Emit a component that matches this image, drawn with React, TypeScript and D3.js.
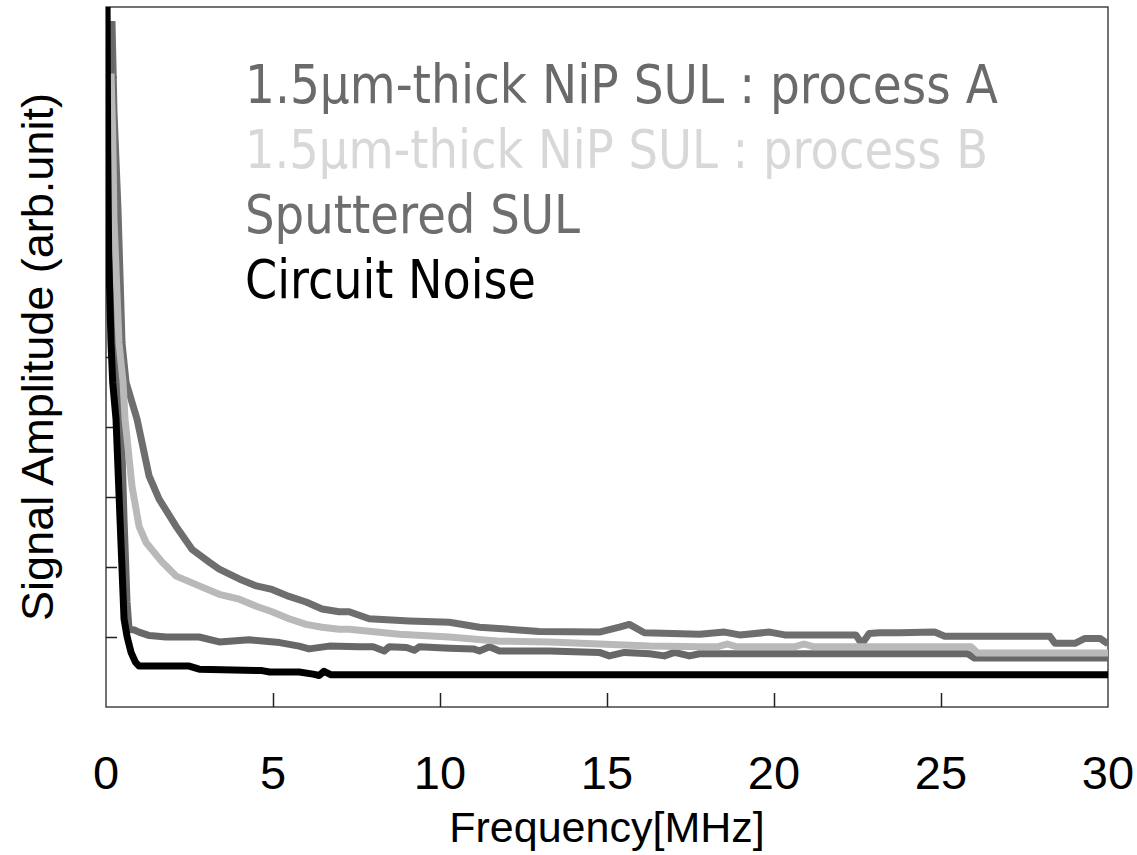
import { useEffect, useRef } from "react"
import * as d3 from "d3"

type Pt = [number, number]

// frequency [MHz], amplitude [arb. unit]
const processA: Pt[] = [
  [0.18, 9.8], [0.24, 8.5], [0.36, 7.1], [0.48, 5.2], [0.6, 4.64], [0.93, 4.11],
  [1.29, 3.3], [1.59, 2.97], [2.1, 2.58], [2.58, 2.25], [3.09, 2.07], [3.39, 1.97],
  [3.99, 1.83], [4.5, 1.73], [4.97, 1.68], [5.48, 1.58], [5.99, 1.5], [6.47, 1.4],
  [6.98, 1.36], [7.28, 1.36], [7.88, 1.26], [9.08, 1.23], [10.28, 1.21], [11.18, 1.14],
  [12.98, 1.08], [14.77, 1.07], [15.37, 1.14], [15.67, 1.18], [16.12, 1.06], [17.77, 1.04],
  [18.52, 1.07], [18.97, 1.03], [19.87, 1.07], [20.32, 1.03], [22.45, 1.03], [22.63, 0.9],
  [22.85, 1.05], [23.16, 1.06], [23.76, 1.06], [24.81, 1.07], [25.11, 1.01], [28.26, 1.01],
  [28.41, 0.91], [29.01, 0.91], [29.31, 0.98], [29.76, 0.98], [30, 0.9],
]

const processB: Pt[] = [
  [0.15, 9.05], [0.2, 8.2], [0.24, 6.96], [0.39, 5.2], [0.51, 4.64], [0.57, 4.11],
  [0.78, 3.15], [0.99, 2.58], [1.2, 2.35], [1.68, 2.07], [2.1, 1.87], [2.79, 1.73],
  [3.39, 1.61], [3.99, 1.54], [4.5, 1.44], [4.97, 1.36], [5.48, 1.26], [5.99, 1.18],
  [6.47, 1.14], [6.98, 1.11], [7.28, 1.11], [8.78, 1.04], [10.28, 1.0], [11.78, 0.94],
  [13.28, 0.93], [14.77, 0.9], [16.27, 0.87], [17.77, 0.86], [18.3, 0.86], [18.6, 0.9],
  [18.9, 0.86], [20.6, 0.86], [20.9, 0.9], [21.2, 0.86], [25.9, 0.86], [26.1, 0.77], [30, 0.77],
]

const sputtered: Pt[] = [
  [0.12, 9.8], [0.18, 7.0], [0.3, 5.2], [0.37, 4.64], [0.45, 4.11], [0.54, 2.68],
  [0.63, 1.5], [0.69, 1.11], [0.85, 1.1], [0.99, 1.07], [1.3, 1.02], [1.8, 1.0],
  [2.79, 1.0], [3.39, 0.93], [4.29, 0.96], [5.2, 0.92], [5.78, 0.87], [6.08, 0.83],
  [6.68, 0.87], [7.58, 0.86], [8.0, 0.86], [8.33, 0.8], [8.48, 0.86], [9.0, 0.85],
  [9.23, 0.81], [9.38, 0.86], [10.28, 0.84], [11.0, 0.83], [11.18, 0.8], [11.48, 0.86],
  [11.78, 0.8], [13.28, 0.8], [14.77, 0.78], [15.07, 0.73], [15.52, 0.78], [16.27, 0.76],
  [16.72, 0.73], [17.02, 0.78], [17.47, 0.73], [17.77, 0.76], [25.8, 0.76], [26.0, 0.7], [30, 0.7],
]

const circuitNoise: Pt[] = [
  [0.03, 10.3], [0.05, 8.0], [0.08, 6.5], [0.15, 5.2], [0.2, 4.64], [0.3, 4.11],
  [0.42, 2.68], [0.54, 1.26], [0.63, 1.01], [0.75, 0.78], [0.88, 0.64], [0.99, 0.585],
  [2.49, 0.585], [2.79, 0.54], [4.67, 0.52], [4.9, 0.5], [5.78, 0.5], [6.2, 0.47],
  [6.38, 0.45], [6.53, 0.51], [6.74, 0.46], [30, 0.46],
]

const legendLabels = [
  "1.5\u03bcm-thick NiP SUL : process A",
  "1.5\u03bcm-thick NiP SUL : process B",
  "Sputtered SUL",
  "Circuit Noise",
]
const legendColors = ["#6a6a6a", "#d8d8d8", "#6e6e6e", "#000000"]
const legendWidths = [753, 743, 335, 291]

const xTicks = [0, 5, 10, 15, 20, 25, 30]
const yTicks = [1, 2, 3, 4, 5, 6, 7, 8, 9]

export default function App() {
  const svgRef = useRef<SVGSVGElement>(null)

  useEffect(() => {
    if (!svgRef.current) return
    const svg = d3.select(svgRef.current)
    svg.selectAll("*").remove()

    const left = 106
    const right = 1108
    const top = 7
    const bottom = 707

    const x = d3.scaleLinear().domain([0, 30]).range([left, right])
    const y = d3.scaleLinear().domain([0, 10]).range([bottom, top])

    svg
      .append("defs")
      .append("clipPath")
      .attr("id", "plot-clip")
      .append("rect")
      .attr("x", left)
      .attr("y", top)
      .attr("width", right - left)
      .attr("height", bottom - top)

    // frame
    svg
      .append("rect")
      .attr("x", left)
      .attr("y", top)
      .attr("width", right - left)
      .attr("height", bottom - top)
      .attr("fill", "none")
      .attr("stroke", "#444")
      .attr("stroke-width", 1.5)

    // y ticks, inward, no labels
    svg
      .append("g")
      .attr("transform", `translate(${left},0)`)
      .call(d3.axisLeft(y).tickValues(yTicks).tickSizeInner(-11).tickSizeOuter(0).tickFormat(() => ""))
      .call((g) => g.select(".domain").remove())
      .selectAll("line")
      .attr("stroke", "#222")
      .attr("stroke-width", 1.5)

    // x ticks, inward
    svg
      .append("g")
      .attr("transform", `translate(0,${bottom})`)
      .call(d3.axisBottom(x).tickValues(xTicks.slice(1, -1)).tickSizeInner(-14).tickSizeOuter(0).tickFormat(() => ""))
      .call((g) => g.select(".domain").remove())
      .selectAll("line")
      .attr("stroke", "#222")
      .attr("stroke-width", 1.5)

    // x tick labels
    svg
      .append("g")
      .selectAll("text")
      .data(xTicks)
      .enter()
      .append("text")
      .attr("x", (d) => x(d))
      .attr("y", 789)
      .attr("text-anchor", "middle")
      .style("font-family", "'Liberation Sans', Arial, sans-serif")
      .style("font-size", "47px")
      .text((d) => d)

    // axis titles
    svg
      .append("text")
      .attr("x", (left + right) / 2)
      .attr("y", 842)
      .attr("text-anchor", "middle")
      .style("font-family", "'Liberation Sans', Arial, sans-serif")
      .style("font-size", "43px")
      .text("Frequency[MHz]")

    svg
      .append("text")
      .attr("transform", `translate(53,${(top + bottom) / 2}) rotate(-90)`)
      .attr("text-anchor", "middle")
      .style("font-family", "'Liberation Sans', Arial, sans-serif")
      .style("font-size", "45px")
      .text("Signal Amplitude (arb.unit)")

    const line = d3
      .line<Pt>()
      .x((d) => x(d[0]))
      .y((d) => y(d[1]))

    const series: { data: Pt[]; color: string }[] = [
      { data: processA, color: "#6e6e6e" },
      { data: sputtered, color: "#686868" },
      { data: processB, color: "#b9b9b9" },
      { data: circuitNoise, color: "#000000" },
    ]

    const plot = svg.append("g").attr("clip-path", "url(#plot-clip)")
    series.forEach((s) => {
      plot
        .append("path")
        .datum(s.data)
        .attr("fill", "none")
        .attr("stroke", s.color)
        .attr("stroke-width", 7)
        .attr("stroke-linejoin", "round")
        .attr("d", line)
    })

    // legend as stacked text
    svg
      .append("g")
      .selectAll("text")
      .data(legendLabels)
      .enter()
      .append("text")
      .attr("x", 245)
      .attr("y", (_, i) => 103 + i * 65)
      .attr("textLength", (_, i) => legendWidths[i])
      .attr("lengthAdjust", "spacingAndGlyphs")
      .style("font-family", "'DejaVu Sans', Verdana, sans-serif")
      .style("font-size", "53px")
      .style("fill", (_, i) => legendColors[i])
      .text((d) => d)
  }, [])

  return (
    <svg
      ref={svgRef}
      width={1137}
      height={855}
      style={{ position: "absolute", left: 0, top: 0, background: "#fff" }}
    ></svg>
  )
}
